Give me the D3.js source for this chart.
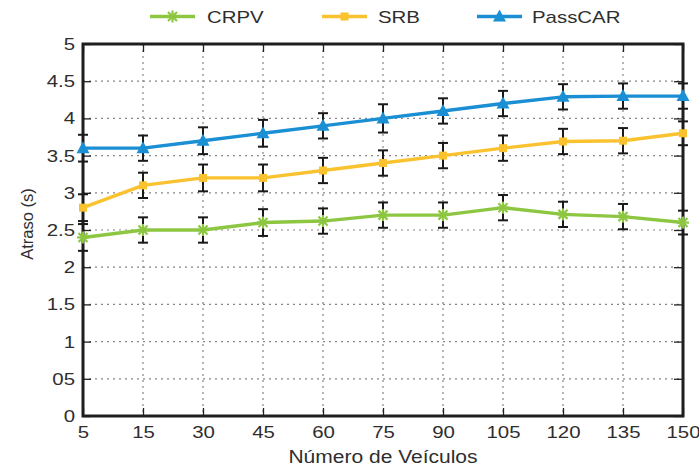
<!DOCTYPE html>
<html>
<head>
<meta charset="utf-8">
<script src="https://cdn.jsdelivr.net/npm/d3@7"></script>
<style>
  html, body { margin: 0; padding: 0; background: #fff; }
  svg { display: block; font-family: "Liberation Sans", Arial, Helvetica, sans-serif; }
</style>
</head>
<body>
<svg id="chart" width="699" height="470"></svg>
<script>
// Number of vehicles (categories on the x axis)
const categories = ["5", "15", "30", "45", "60", "75", "90", "105", "120", "135", "150"];

// Mean delay (s) per protocol
const crpv    = [2.4, 2.5, 2.5, 2.6, 2.62, 2.7, 2.7, 2.8, 2.71, 2.68, 2.6];
const srb     = [2.8, 3.1, 3.2, 3.2, 3.3, 3.4, 3.5, 3.6, 3.69, 3.7, 3.8];
const passcar = [3.6, 3.6, 3.7, 3.8, 3.9, 4.0, 4.1, 4.2, 4.29, 4.3, 4.3];

// Half-width of the error bars (s)
const crpvErr    = [0.18, 0.17, 0.17, 0.18, 0.17, 0.17, 0.17, 0.17, 0.17, 0.17, 0.16];
const srbErr     = [0.18, 0.17, 0.18, 0.18, 0.17, 0.17, 0.17, 0.17, 0.17, 0.17, 0.16];
const passcarErr = [0.18, 0.17, 0.18, 0.18, 0.17, 0.19, 0.17, 0.17, 0.17, 0.17, 0.17];

// Y axis tick values and their printed labels
const yTicks  = [0, 0.5, 1, 1.5, 2, 2.5, 3, 3.5, 4, 4.5, 5];
const yLabels = ["0", "05", "1", "1.5", "2", "2.5", "3", "3.5", "4", "4.5", "5"];

const seriesNames = ["CRPV", "SRB", "PassCAR"];

const series = [
  { name: seriesNames[0], values: crpv,    err: crpvErr,    color: "#8dc641", marker: "star" },
  { name: seriesNames[1], values: srb,     err: srbErr,     color: "#f9c22e", marker: "square" },
  { name: seriesNames[2], values: passcar, err: passcarErr, color: "#1b8fd4", marker: "triangle" }
];

const svg = d3.select("#chart");
const plot = { left: 83, right: 683, top: 44, bottom: 416 };

const x = d3.scalePoint().domain(categories).range([plot.left, plot.right]);
const y = d3.scaleLinear().domain([0, 5]).range([plot.bottom, plot.top]);

const textColor = "#2e2e2e";
const fontSize = 17;
const widen = 1.2; // horizontal text widening

// Stretch text horizontally while keeping its anchor
function widenText(sel, factor) {
  sel.each(function () {
    const w = this.getComputedTextLength();
    d3.select(this).attr("textLength", w * factor).attr("lengthAdjust", "spacingAndGlyphs");
  });
}

// Dotted grid
const grid = svg.append("g").attr("stroke", "#858585").attr("stroke-width", 1.2)
  .attr("stroke-dasharray", "2,4");
grid.selectAll("line.h").data(yTicks.slice(1, -1)).join("line")
  .attr("x1", plot.left).attr("x2", plot.right)
  .attr("y1", d => y(d)).attr("y2", d => y(d));
grid.selectAll("line.v").data(categories.slice(1, -1)).join("line")
  .attr("x1", d => x(d)).attr("x2", d => x(d))
  .attr("y1", plot.top).attr("y2", plot.bottom);

// Axes with inward ticks
function styleAxis(g) {
  g.select(".domain").remove();
  g.selectAll(".tick line").attr("stroke", "#222").attr("stroke-width", 1.3);
  g.selectAll(".tick text").attr("fill", textColor).style("font-size", fontSize + "px")
    .call(widenText, widen);
}

svg.append("g").attr("transform", `translate(${plot.left},0)`)
  .call(d3.axisLeft(y).tickValues(yTicks).tickFormat((d, i) => yLabels[i])
    .tickSizeInner(-8).tickSizeOuter(0).tickPadding(8))
  .call(styleAxis);

svg.append("g").attr("transform", `translate(${plot.right},0)`)
  .call(d3.axisRight(y).tickValues(yTicks).tickFormat("")
    .tickSizeInner(-9).tickSizeOuter(0))
  .call(styleAxis);

svg.append("g").attr("transform", `translate(0,${plot.bottom})`)
  .call(d3.axisBottom(x).tickSizeInner(-8).tickSizeOuter(0).tickPadding(10))
  .call(styleAxis);

svg.append("g").attr("transform", `translate(0,${plot.top})`)
  .call(d3.axisTop(x).tickFormat("").tickSizeInner(-8).tickSizeOuter(0))
  .call(styleAxis);

// Frame
svg.append("rect")
  .attr("x", plot.left).attr("y", plot.top)
  .attr("width", plot.right - plot.left).attr("height", plot.bottom - plot.top)
  .attr("fill", "none").attr("stroke", "#1e1e1e").attr("stroke-width", 3);

// Marker drawing
function drawMarker(g, type, color, cx, cy) {
  if (type === "square") {
    g.append("rect").attr("x", cx - 4).attr("y", cy - 4).attr("width", 8).attr("height", 8)
      .attr("fill", color);
  } else if (type === "triangle") {
    g.append("path")
      .attr("d", `M${cx},${cy - 7}L${cx + 6.5},${cy + 5}L${cx - 6.5},${cy + 5}Z`)
      .attr("fill", color);
  } else {
    const s = g.append("g").attr("stroke", color).attr("stroke-width", 2.2);
    [[-6, 0, 6, 0], [0, -6, 0, 6], [-4.5, -4.5, 4.5, 4.5], [-4.5, 4.5, 4.5, -4.5]].forEach(p => {
      s.append("line").attr("x1", cx + p[0]).attr("y1", cy + p[1])
        .attr("x2", cx + p[2]).attr("y2", cy + p[3]);
    });
  }
}

const line = d3.line().x((d, i) => x(categories[i])).y(d => y(d));

series.forEach(s => {
  const g = svg.append("g");
  g.append("path").datum(s.values).attr("d", line)
    .attr("fill", "none").attr("stroke", s.color).attr("stroke-width", 3.4)
    .attr("stroke-linejoin", "round");

  // Error bars
  const eb = g.append("g").attr("stroke", "#1a1a1a").attr("stroke-width", 2);
  s.values.forEach((v, i) => {
    const cx = x(categories[i]);
    const y1 = y(v + s.err[i]), y2 = y(v - s.err[i]);
    eb.append("line").attr("x1", cx).attr("x2", cx).attr("y1", y1).attr("y2", y2);
    eb.append("line").attr("x1", cx - 5).attr("x2", cx + 5).attr("y1", y1).attr("y2", y1);
    eb.append("line").attr("x1", cx - 5).attr("x2", cx + 5).attr("y1", y2).attr("y2", y2);
  });

  s.values.forEach((v, i) => drawMarker(g, s.marker, s.color, x(categories[i]), y(v)));
});

// Legend
const legendItems = [
  { x1: 150, x2: 195, tx: 207 },
  { x1: 322, x2: 367, tx: 378 },
  { x1: 477, x2: 522, tx: 532 }
];
series.forEach((s, i) => {
  const L = legendItems[i];
  const g = svg.append("g");
  g.append("line").attr("x1", L.x1).attr("x2", L.x2).attr("y1", 16.5).attr("y2", 16.5)
    .attr("stroke", s.color).attr("stroke-width", 3.4);
  drawMarker(g, s.marker, s.color, (L.x1 + L.x2) / 2, 16.5);
  g.append("text").attr("x", L.tx).attr("y", 23).attr("fill", textColor)
    .style("font-size", fontSize + "px").text(s.name)
    .call(widenText, widen);
});

// Axis titles
svg.append("text").attr("x", (plot.left + plot.right) / 2).attr("y", 463)
  .attr("text-anchor", "middle")
  .attr("fill", textColor).style("font-size", "17.5px").text("Número de Veículos")
  .call(widenText, widen);

svg.append("text").attr("transform", `translate(33,224) rotate(-90)`)
  .attr("text-anchor", "middle").attr("fill", textColor).style("font-size", "16.5px")
  .text("Atraso (s)");
</script>
</body>
</html>
